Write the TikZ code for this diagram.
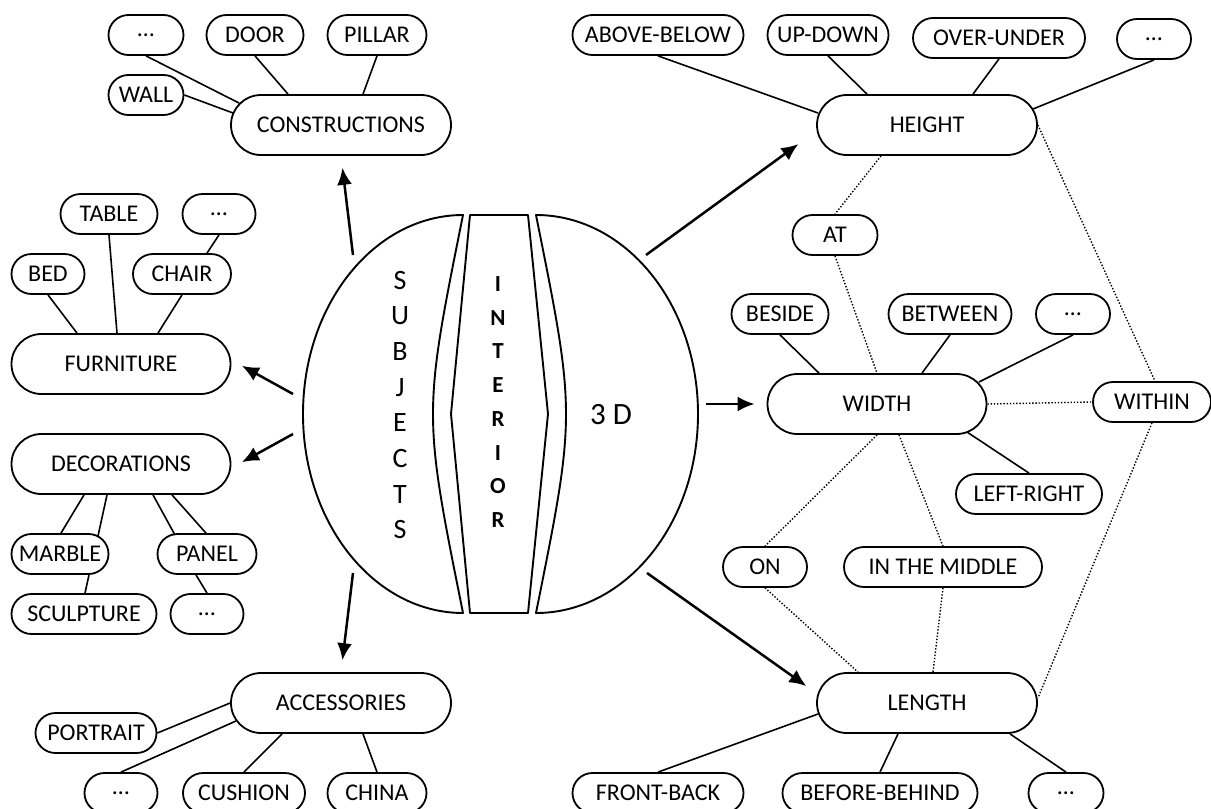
\documentclass[tikz,border=0pt]{standalone}
\usepackage{fontspec}
\setmainfont{Carlito}
\usetikzlibrary{arrows.meta}

\begin{document}
\begin{tikzpicture}[x=1pt,y=-1pt,
  pill/.style={draw, line width=1.8pt, rounded corners=20pt, minimum height=40pt,
               inner sep=0pt, fill=white, font=\fontsize{24}{28}\selectfont},
  hub/.style={pill, rounded corners=30pt, minimum height=60pt},
  link/.style={line width=1.6pt},
  dots/.style={line width=1.4pt, dash pattern=on 1.4pt off 1.8pt},
  arr/.style={line width=2.5pt, -{Latex[length=17pt,width=15pt]}, shorten >=12pt},
  part/.style={draw, line width=1.9pt, line join=round}]

\useasboundingbox (0,0) rectangle (1211,809);

% ---------- central globe ----------
\draw[part] (463,215) arc[start angle=-90, end angle=-270, x radius=160, y radius=199]
  .. controls (423,414) .. (463,215) -- cycle;
\draw[part] (470,215) -- (528,215) -- (548,414) -- (528,613) -- (470,613) -- (451,414) -- cycle;
\draw[part] (536,215) arc[start angle=-90, end angle=90, x radius=162, y radius=199]
  .. controls (576,414) .. (536,215) -- cycle;

\node[align=center, inner sep=0pt, font=\fontsize{28}{35.7}\selectfont] (subj) at (400,405)
  {S\\U\\B\\J\\E\\C\\T\\S};
\node[align=center, inner sep=0pt, font=\fontsize{23}{33.7}\selectfont\bfseries] (inter) at (498,402)
  {I\\N\\T\\E\\R\\I\\O\\R};
\node[inner sep=0pt, font=\fontsize{31}{36}\selectfont] (three) at (611,415) {3 D};

% arrow start points around the globe
\coordinate (sCons) at (353,255);
\coordinate (sFurn) at (293,394);
\coordinate (sDec)  at (293,434);
\coordinate (sAcc)  at (353,573);
\coordinate (sH)    at (646,255);
\coordinate (sW)    at (706,404);
\coordinate (sL)    at (647,573);

% ---------- constructions ----------
\node[pill, minimum width=75pt]  (c1)     at (146,35)  {…};
\node[pill, minimum width=97pt]  (door)   at (255,35)  {DOOR};
\node[pill, minimum width=99pt]  (pillar) at (377,35)  {PILLAR};
\node[pill, minimum width=75pt]  (wall)   at (146,95)  {WALL};
\node[hub,  minimum width=220pt] (cons)   at (341,125) {CONSTRUCTIONS};

% ---------- furniture ----------
\node[pill, minimum width=97pt]  (table) at (109,214) {TABLE};
\node[pill, minimum width=73pt]  (c2)    at (219,214) {…};
\node[pill, minimum width=73pt]  (bed)   at (48,274)  {BED};
\node[pill, minimum width=98pt]  (chair) at (182,274) {CHAIR};
\node[hub,  minimum width=219pt] (furn)  at (121,364) {FURNITURE};

% ---------- decorations ----------
\node[hub,  minimum width=219pt] (dec)    at (121,464) {DECORATIONS};
\node[pill, minimum width=97pt]  (marble) at (60,554)  {MARBLE};
\node[pill, minimum width=99pt]  (panel)  at (207,554) {PANEL};
\node[pill, minimum width=145pt] (sculpt) at (84,614)  {SCULPTURE};
\node[pill, minimum width=73pt]  (c3)     at (207,614) {…};

% ---------- accessories ----------
\node[hub,  minimum width=220pt] (acc)      at (341,703) {ACCESSORIES};
\node[pill, minimum width=121pt] (portrait) at (96,733)  {PORTRAIT};
\node[pill, minimum width=73pt]  (c4)       at (121,793) {…};
\node[pill, minimum width=122pt] (cushion)  at (244,793) {CUSHION};
\node[pill, minimum width=99pt]  (china)    at (377,793) {CHINA};

% ---------- height ----------
\node[pill, minimum width=171pt] (ab)     at (658,35)   {ABOVE-BELOW};
\node[pill, minimum width=121pt] (ud)     at (828,35)   {UP-DOWN};
\node[pill, minimum width=172pt] (ou)     at (999,38)   {OVER-UNDER};
\node[pill, minimum width=74pt]  (c5)     at (1154,39)  {…};
\node[hub,  minimum width=220pt] (height) at (927,125)  {HEIGHT};
\node[pill, minimum width=85pt]  (at)     at (835,235)  {AT};

% ---------- width ----------
\node[pill, minimum width=97pt]  (beside)  at (780,314)  {BESIDE};
\node[pill, minimum width=123pt] (between) at (950,314)  {BETWEEN};
\node[pill, minimum width=74pt]  (c6)      at (1073,314) {…};
\node[hub,  minimum width=219pt] (width)   at (877,404)  {WIDTH};
\node[pill, minimum width=118pt] (within)  at (1152,402) {WITHIN};
\node[pill, minimum width=146pt] (lr)      at (1029,494) {LEFT-RIGHT};
\node[pill, minimum width=84pt]  (on)      at (765,567)  {ON};
\node[pill, minimum width=198pt] (mid)     at (943,567)  {IN THE MIDDLE};

% ---------- length ----------
\node[hub,  minimum width=220pt] (length) at (927,703)  {LENGTH};
\node[pill, minimum width=171pt] (fb)     at (658,793)  {FRONT-BACK};
\node[pill, minimum width=195pt] (bb)     at (880,793)  {BEFORE-BEHIND};
\node[pill, minimum width=75pt]  (c7)     at (1066,793) {…};

% ---------- arrows from the globe ----------
\draw[arr] (sCons) -- (cons.south);
\draw[arr] (sFurn) -- ([yshift=4pt]furn.east);
\draw[arr] (sDec)  -- ([yshift=-4pt]dec.east);
\draw[arr] (sAcc)  -- (acc.north);
\draw[arr] (sH)    -- ([shift={(-8,12)}]height.west);
\draw[arr] (sW)    -- (width.west);
\draw[arr] (sL)    -- ([shift={(0,-10)}]length.west);

% ---------- solid links ----------
\draw[link] (c1.south)     -- ([shift={(-102,-22)}]cons.center);
\draw[link] (wall.east)    -- ([shift={(-108,-12)}]cons.center);
\draw[link] (door.south)   -- ([xshift=-53pt]cons.north);
\draw[link] (pillar.south) -- ([xshift=22pt]cons.north);

\draw[link] (bed.south)   -- ([xshift=-44pt]furn.north);
\draw[link] (table.south) -- ([xshift=-4pt]furn.north);
\draw[link] (chair.south) -- ([xshift=37pt]furn.north);
\draw[link] (c2.south)    -- ([xshift=25pt]chair.north);

\draw[link] ([xshift=-37pt]dec.south) -- ([xshift=1pt]marble.north);
\draw[link] ([xshift=-14pt]dec.south) -- ([shift={(38,-18)}]marble.center);
\draw[link] ([xshift=32pt]dec.south)  -- ([shift={(-32,-19)}]panel.center);
\draw[link] ([xshift=51pt]dec.south)  -- ([xshift=-1pt]panel.north);
\draw[link] ([xshift=29pt]marble.south) -- ([xshift=1pt]sculpt.north);
\draw[link] ([xshift=-11pt]panel.south) -- (c3.north);

\draw[link] (acc.west) -- (portrait.east);
\draw[link] ([shift={(-105,18)}]acc.center) -- (c4.north);
\draw[link] ([xshift=-59pt]acc.south) -- (cushion.north);
\draw[link] ([xshift=22pt]acc.south)  -- (china.north);

\draw[link] (ab.south) -- ([shift={(-109,-12)}]height.center);
\draw[link] (ud.south) -- ([xshift=-60pt]height.north);
\draw[link] (ou.south) -- ([xshift=46pt]height.north);
\draw[link] (c5.south) -- ([shift={(106,-16)}]height.center);

\draw[link] (beside.south)  -- ([xshift=-58pt]width.north);
\draw[link] (between.south) -- ([xshift=45pt]width.north);
\draw[link] (c6.south)      -- ([shift={(102,-22)}]width.center);
\draw[link] ([shift={(90,28)}]width.center) -- (lr.north);

\draw[link] ([shift={(-109,11)}]length.center) -- (fb.north);
\draw[link] ([xshift=-29pt]length.south) -- (bb.north);
\draw[link] ([xshift=83pt]length.south)  -- (c7.north);

% ---------- dotted relations ----------
\draw[dots] ([xshift=-46pt]height.south) -- (at.north);
\draw[dots] (height.east) -- ([xshift=3pt]within.north);
\draw[dots] (at.south) -- (width.north);
\draw[dots] (width.east) -- (within.west);
\draw[dots] (width.south) -- (on.north);
\draw[dots] ([xshift=22pt]width.south) -- (mid.north);
\draw[dots] (within.south) -- ([yshift=5pt]length.east);
\draw[dots] (on.south) -- ([xshift=-69pt]length.north);
\draw[dots] (mid.south) -- ([xshift=6pt]length.north);
\end{tikzpicture}
\end{document}
